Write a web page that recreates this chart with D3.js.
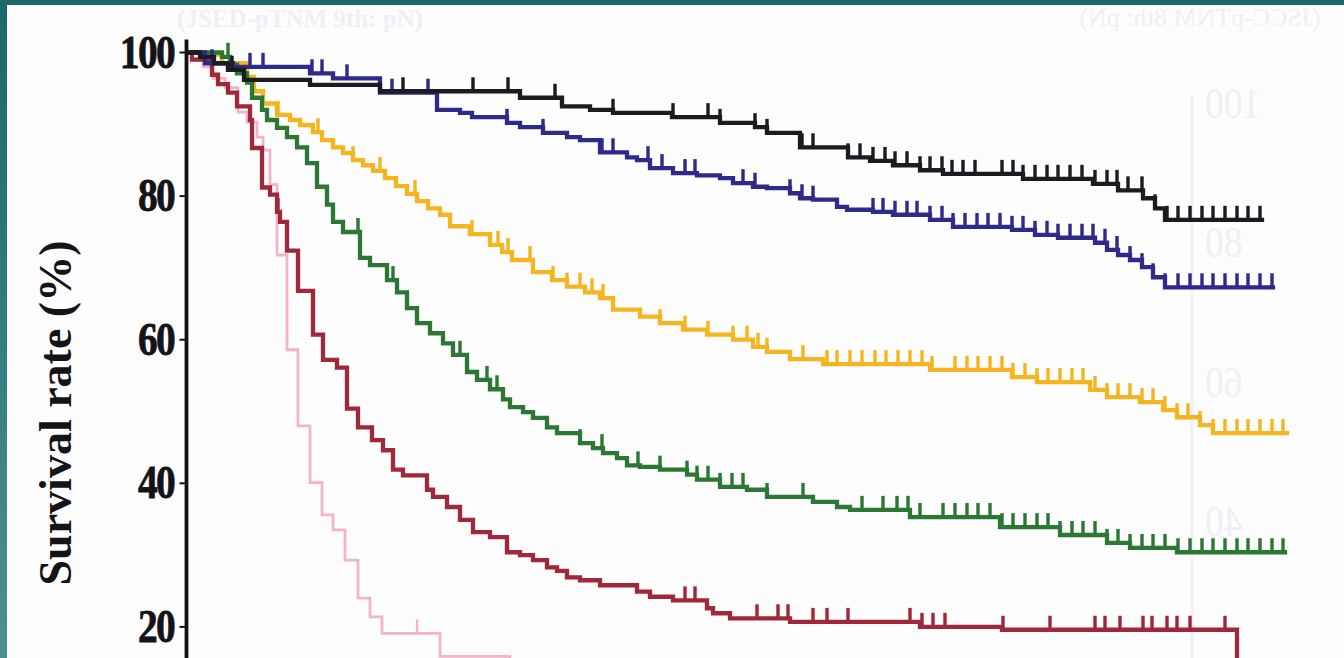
<!DOCTYPE html>
<html>
<head>
<meta charset="utf-8">
<script src="https://cdn.jsdelivr.net/npm/d3@7"></script>
<style>
  html, body { margin: 0; padding: 0; background: #ffffff; overflow: hidden; }
  svg { display: block; }
</style>
</head>
<body>
<svg id="chart" width="1344" height="658"></svg>
<script>
// Kaplan–Meier survival by group. Time in months, survival in percent.
// Each step array lists [month, survival %] at the moment the curve drops.

const yTicks = [100, 80, 60, 40, 20];
const yTitle = "Survival rate (%)";

// faint print from the facing page that shows through the paper
const ghostTicks = [100, 80, 60, 40];
const ghostTitleLeft = "(JSED-pTNM 9th: pN)";
const ghostTitleRight = "(JSCC-pTNM 8th: pN)";

const blackSteps = [[0,100],[1.2,99.4],[2.6,98.5],[4.0,97.6],[5.6,96.2],[12.2,95.5],[19.2,94.6],[33.2,93.7],
  [37.4,92.5],[40.2,92.0],[42.5,91.6],[48.4,91.0],[53.2,90.2],[56.7,89.6],[57.9,88.8],[61.2,86.8],[66.0,85.4],
  [68.2,84.9],[70.5,84.3],[73.2,83.6],[75.5,83.1],[83.5,82.4],[90.5,81.7],[93.0,80.8],[95.5,79.7],[96.7,78.3],[97.7,76.7]];
const blackEnd = 107.4;
const blackCensor = [4.4, 21.5, 28.5, 32.0, 36.7, 42.5, 48.5, 52.0, 53.2, 56.7, 57.9, 61.4, 62.5, 66.0, 67.2, 68.5,
  69.7, 70.7, 71.9, 73.2, 74.2, 75.4, 76.4, 77.5, 78.7, 81.4, 82.5, 83.5, 84.7, 85.9, 87.0, 88.2, 89.4, 90.7, 91.9,
  92.9, 94.0, 95.4, 96.7, 97.9, 99.0, 100.2, 101.4, 102.5, 103.7, 104.9, 106.0, 107.2];

const blueSteps = [[0,100],[1.7,98.5],[4.5,98.0],[12.2,97.1],[14.5,96.4],[19.2,94.4],[24.9,92.0],[27.2,91.6],
  [28.4,91.0],[31.9,90.2],[33.2,89.6],[35.5,88.8],[37.9,88.2],[39.2,87.8],[41.2,86.1],[43.9,85.4],[44.9,85.0],
  [46.2,83.9],[48.5,83.2],[50.9,82.9],[53.2,82.5],[54.5,81.8],[56.5,81.3],[57.9,81.1],[60.2,80.4],[61.2,79.7],
  [62.5,79.5],[64.9,78.5],[65.9,78.1],[68.5,77.8],[70.5,77.4],[74.2,76.7],[76.5,75.7],[82.4,75.3],[84.7,74.6],
  [87.0,74.2],[90.7,73.5],[91.9,72.5],[93.0,71.8],[94.2,71.1],[95.4,70.1],[96.5,68.7],[97.7,67.3]];
const blueEnd = 108.5;
const blueCensor = [2.4, 6.2, 7.5, 12.4, 13.4, 15.9, 20.4, 24.0, 31.9, 35.5, 41.4, 42.5, 46.0, 47.4, 49.7, 50.7,
  55.5, 56.7, 60.2, 61.4, 62.5, 68.5, 69.5, 70.7, 71.9, 72.9, 74.2, 75.4, 76.5, 77.7, 78.9, 80.0, 81.2, 82.4, 83.5,
  84.7, 85.9, 87.0, 88.2, 89.4, 90.5, 91.7, 92.9, 94.2, 95.4, 96.5, 97.7, 99.0, 100.2, 101.4, 102.5, 103.7, 104.9,
  106.0, 107.2, 108.4];

const yellowSteps = [[0,100],[1.7,99.7],[3.4,98.5],[5.9,96.6],[6.6,94.6],[7.5,92.9],[8.9,91.3],[10.2,90.6],
  [11.2,89.9],[12.5,88.9],[13.4,87.8],[14.5,86.8],[15.5,86.0],[16.5,85.0],[17.5,84.3],[18.5,83.5],[19.7,82.5],
  [20.8,81.4],[21.9,80.3],[22.9,79.3],[24.0,78.3],[25.2,77.4],[26.2,75.8],[28.2,74.7],[30.2,73.2],[31.4,72.2],
  [32.4,71.1],[34.5,69.4],[36.4,68.3],[37.9,67.4],[39.7,66.6],[41.2,65.8],[42.5,64.2],[45.2,63.2],[47.2,62.3],
  [49.5,61.4],[51.9,60.7],[54.5,60.0],[56.5,59.0],[57.9,58.3],[60.2,57.3],[63.5,56.6],[74.2,55.8],[82.4,54.8],
  [84.9,54.1],[90.2,53.0],[91.9,52.0],[95.2,51.3],[97.5,50.2],[98.9,49.2],[101.2,48.1],[102.5,47.0]];
const yellowEnd = 109.9;
const yellowCensor = [9.0, 13.0, 16.5, 19.2, 22.7, 28.4, 31.0, 32.0, 34.2, 36.5, 37.9, 39.2, 40.4, 41.5, 47.2,
  49.7, 52.0, 54.5, 55.9, 57.0, 57.9, 61.5, 63.9, 64.9, 66.2, 67.4, 68.7, 69.8, 71.0, 72.2, 73.4, 74.4, 76.7, 77.9,
  79.0, 80.2, 81.4, 82.5, 83.7, 84.9, 86.0, 87.2, 88.4, 89.5, 90.7, 91.9, 93.0, 94.2, 95.4, 96.5, 97.7, 98.9,
  100.0, 101.2, 102.5, 103.7, 104.9, 106.0, 107.2, 108.4, 109.5];

const greenSteps = [[0,100],[3.4,99.4],[4.2,98.3],[4.9,97.1],[5.9,95.8],[6.4,93.7],[7.4,92.0],[7.9,90.6],
  [8.9,89.5],[9.9,88.2],[10.9,86.8],[11.9,84.6],[12.9,81.3],[13.9,78.8],[14.5,76.4],[15.5,75.0],[17.2,71.4],
  [18.2,70.4],[19.9,68.3],[20.9,66.6],[21.9,64.4],[22.9,62.3],[24.2,60.9],[25.5,59.5],[26.5,57.9],[27.9,55.5],
  [28.9,54.4],[30.2,53.1],[31.5,51.7],[32.2,50.6],[33.5,49.9],[34.5,49.1],[35.9,47.8],[36.9,47.0],[39.2,45.6],
  [40.5,44.9],[41.5,44.2],[42.9,43.5],[43.9,42.5],[45.2,42.3],[47.2,41.9],[49.9,41.2],[50.9,40.5],[53.2,39.5],
  [55.9,39.1],[57.9,38.1],[62.5,37.4],[64.9,36.7],[66.2,36.3],[72.2,35.3],[81.2,33.9],[87.2,32.8],[91.9,31.7],
  [94.2,31.0],[98.9,30.4]];
const greenEnd = 109.7;
const greenCensor = [4.0, 17.0, 20.5, 27.2, 29.9, 30.9, 39.2, 41.4, 45.0, 47.2, 49.9, 50.9, 52.0, 53.2, 54.4,
  55.5, 57.9, 61.5, 67.4, 69.5, 70.9, 72.0, 73.2, 75.5, 76.7, 77.9, 79.0, 80.2, 81.4, 82.5, 83.7, 84.9, 86.0, 87.2,
  88.4, 89.5, 90.7, 91.9, 93.0, 94.2, 95.4, 96.5, 97.7, 99.0, 100.2, 101.4, 102.5, 103.7, 104.9, 106.0, 107.2,
  108.4, 109.5];

const redSteps = [[0,100],[0.4,99.0],[2.4,96.9],[3.0,95.6],[4.0,94.4],[4.9,92.5],[6.2,90.6],[6.4,86.7],
  [7.4,81.2],[8.2,80.2],[8.9,77.8],[9.2,76.4],[9.9,72.4],[11.0,66.8],[12.5,60.7],[13.5,57.2],[14.9,56.1],
  [15.9,50.4],[17.0,47.8],[18.4,46.0],[19.5,44.6],[20.5,41.9],[21.5,41.1],[23.9,39.1],[24.5,38.1],[25.9,36.7],
  [27.2,34.9],[28.5,33.2],[30.2,32.5],[31.9,30.4],[33.2,30.0],[34.5,29.3],[35.9,28.3],[36.9,27.8],[37.9,26.9],
  [39.2,26.5],[41.2,25.8],[44.9,24.9],[46.2,24.2],[48.5,23.7],[51.9,22.6],[52.5,21.9],[54.2,21.2],[60.2,20.7],
  [73.2,20.0],[81.4,19.6],[104.9,5.0]];
const redEnd = 105.2;
const redCensor = [9.0, 49.7, 50.7, 56.9, 59.0, 60.0, 62.5, 63.9, 66.0, 72.2, 73.4, 74.5, 75.7, 81.5, 86.2,
  90.7, 91.7, 93.2, 95.5, 96.4, 97.9, 98.9, 100.2, 103.7];

const pinkSteps = [[0,100],[1.5,98.0],[2.5,96.4],[3.7,95.1],[5.0,91.7],[5.9,90.3],[6.9,88.2],[7.5,86.4],
  [8.2,81.6],[8.9,71.8],[9.9,58.6],[11.0,48.0],[12.2,40.1],[13.4,35.6],[14.5,33.5],[15.7,29.3],[17.0,24.0],
  [18.2,21.4],[19.4,19.1],[25.2,15.9],[32.2,10.0]];
const pinkEnd = 40;
const pinkCensor = [22.9];

// drawing order: lightest underneath, darkest on top
const series = [
  { steps: pinkSteps,   end: pinkEnd,   censor: pinkCensor,   color: "#f2b4ca", width: 2.8 },
  { steps: yellowSteps, end: yellowEnd, censor: yellowCensor, color: "#f4b520", width: 4.3 },
  { steps: greenSteps,  end: greenEnd,  censor: greenCensor,  color: "#2a7834", width: 4.3 },
  { steps: redSteps,    end: redEnd,    censor: redCensor,    color: "#a0283a", width: 4.3 },
  { steps: blueSteps,   end: blueEnd,   censor: blueCensor,   color: "#2e2a8c", width: 4.3 },
  { steps: blackSteps,  end: blackEnd,  censor: blackCensor,  color: "#1b1b22", width: 4.3 }
];

const W = 1344, H = 658;
const svg = d3.select("#chart");

const x = d3.scaleLinear().domain([0, 110]).range([188, 1288]);
const y = d3.scaleLinear().domain([0, 100]).range([770.5, 52.5]);
// the show-through page is mirrored and sits a little lower
const yGhostRight = d3.scaleLinear().domain([0, 100]).range([800, 103]);

const defs = svg.append("defs");
const grad = defs.append("linearGradient").attr("id", "edge").attr("x1", 0).attr("y1", 0).attr("x2", 0).attr("y2", 1);
grad.append("stop").attr("offset", "0%").attr("stop-color", "#1a686a");
grad.append("stop").attr("offset", "100%").attr("stop-color", "#4a9291");

svg.append("rect").attr("width", W).attr("height", H).attr("fill", "#fdfdfd");

// show-through from the reverse page
const ghost = svg.append("g").attr("fill", "#edf0f5").attr("font-family", "'Liberation Serif', serif");
ghost.append("text")
  .attr("x", 300).attr("y", 27)
  .attr("text-anchor", "middle").attr("font-size", 25).attr("font-weight", "bold")
  .text(ghostTitleLeft);
// mirrored page: flip horizontally
const mirror = ghost.append("g").attr("transform", `translate(${2 * 1100},0) scale(-1,1)`);
mirror.append("text")
  .attr("x", 1000).attr("y", 26)
  .attr("text-anchor", "middle").attr("font-size", 26)
  .text(ghostTitleRight);
mirror.append("line")
  .attr("x1", 1008).attr("x2", 1008)
  .attr("y1", yGhostRight(101)).attr("y2", H)
  .attr("stroke", "#eef1f6").attr("stroke-width", 3);
mirror.selectAll("text.gr")
  .data(ghostTicks)
  .join("text")
  .attr("class", "gr")
  .attr("transform", d => `translate(995,${yGhostRight(d) + 15}) scale(0.85,1)`)
  .attr("text-anchor", "end").attr("font-size", 44)
  .text(d => d);

// survival curves
const line = d3.line()
  .x(d => x(d[0]))
  .y(d => y(d[1]))
  .curve(d3.curveStepAfter);

function survivalAt(steps, t) {
  let v = steps[0][1];
  for (const s of steps) { if (s[0] <= t) v = s[1]; else break; }
  return v;
}

const tickH = 14;
series.forEach(s => {
  const pts = s.steps.concat([[s.end, s.steps[s.steps.length - 1][1]]]);
  const g = svg.append("g");
  g.append("path")
    .attr("d", line(pts))
    .attr("fill", "none")
    .attr("stroke", s.color)
    .attr("stroke-width", s.width)
    .attr("stroke-linejoin", "miter")
    .attr("stroke-linecap", "square");
  g.selectAll("line.censor")
    .data(s.censor)
    .join("line")
    .attr("class", "censor")
    .attr("x1", d => x(d)).attr("x2", d => x(d))
    .attr("y1", d => y(survivalAt(s.steps, d)))
    .attr("y2", d => y(survivalAt(s.steps, d)) - tickH)
    .attr("stroke", s.color)
    .attr("stroke-width", s.width * 0.8);
});

// y axis
const axisX = 186.5;
svg.append("line")
  .attr("x1", axisX).attr("x2", axisX)
  .attr("y1", y(101.8)).attr("y2", y(0))
  .attr("stroke", "#121216").attr("stroke-width", 3.8);

const tickG = svg.append("g");
tickG.selectAll("line")
  .data(yTicks)
  .join("line")
  .attr("x1", axisX - 7).attr("x2", axisX)
  .attr("y1", d => y(d)).attr("y2", d => y(d))
  .attr("stroke", "#121216").attr("stroke-width", 2);

tickG.selectAll("text")
  .data(yTicks)
  .join("text")
  .attr("transform", d => `translate(174,${y(d) + 15}) scale(0.84,1)`)
  .attr("text-anchor", "end")
  .attr("font-family", "'Liberation Serif', 'DejaVu Serif', serif")
  .attr("font-weight", "bold")
  .attr("font-size", 47)
  .attr("letter-spacing", -2)
  .attr("fill", "#141418")
  .attr("stroke", "#141418")
  .attr("stroke-width", 0.8)
  .text(d => d);

svg.append("text")
  .attr("transform", `translate(71,${413}) rotate(-90)`)
  .attr("text-anchor", "middle")
  .attr("font-family", "'Liberation Serif', 'DejaVu Serif', serif")
  .attr("font-weight", "bold")
  .attr("font-size", 46)
  .attr("fill", "#141418")
  .text(yTitle);

// teal frame along the top and left edges
svg.append("rect").attr("x", 0).attr("y", 0).attr("width", W).attr("height", 5).attr("fill", "#1a686a");
svg.append("rect").attr("x", 0).attr("y", 0).attr("width", 7).attr("height", H).attr("fill", "url(#edge)");
</script>
</body>
</html>
